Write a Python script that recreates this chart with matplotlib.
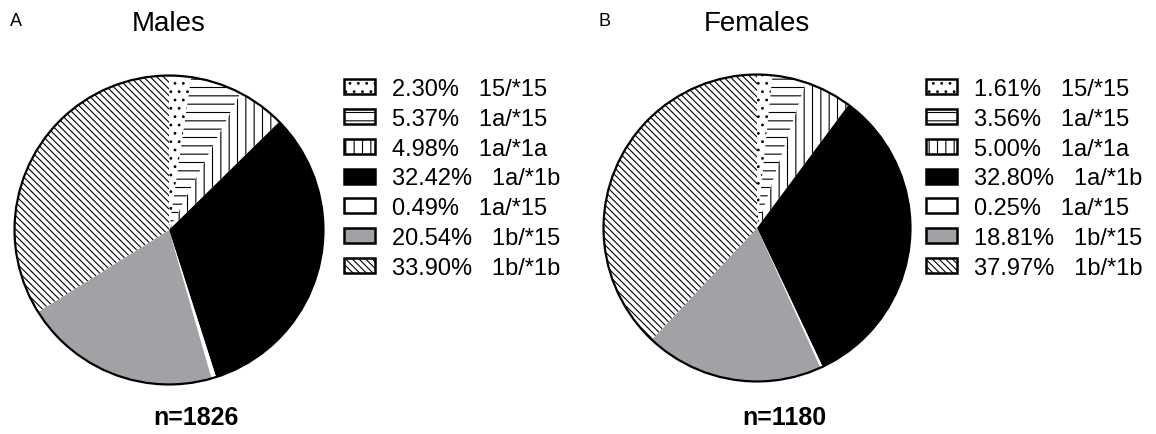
import numpy as np
import matplotlib.pyplot as plt
from matplotlib.patches import Patch, Circle

plt.rcParams['font.family'] = ['Liberation Sans', 'DejaVu Sans']
plt.rcParams['hatch.linewidth'] = 0.8

genotypes = ["15/*15", "1a/*15", "1a/*1a", "1a/*1b", "1a/*15", "1b/*15", "1b/*1b"]
males_pct = [2.30, 5.37, 4.98, 32.42, 0.49, 20.54, 33.90]
females_pct = [1.61, 3.56, 5.00, 32.80, 0.25, 18.81, 37.97]
males_n = 1826
females_n = 1180

# fill style for each genotype slice
face = ['white', 'white', 'white', 'black', 'white', '#a2a2a6', 'white']
hatches = ['..', '--', '||', None, None, None, '\\' * 5]

W, H = 1156, 435
fig = plt.figure(figsize=(W / 100, H / 100), dpi=100)


def px_axes(cx, cy, r):
    return fig.add_axes([(cx - r) / W, (H - cy - r) / H, 2 * r / W, 2 * r / H])


def draw_panel(cx, cy, r, pct, letter, title, n, letter_x, leg_x):
    ax = px_axes(cx, cy, r)
    wedges, _ = ax.pie(pct, startangle=90, counterclock=False,
                       colors=face, wedgeprops=dict(linewidth=0, edgecolor='black'))
    for w, h in zip(wedges, hatches):
        if h:
            w.set_hatch(h)
    ax.add_patch(Circle((0, 0), 1, fill=False, edgecolor='black', linewidth=1.6))
    ax.set_xlim(-1.01, 1.01)
    ax.set_ylim(-1.01, 1.01)
    ax.set_aspect('equal')
    ax.axis('off')

    fig.text(letter_x / W, 1 - 21 / H, letter, fontsize=13, ha='left', va='center')
    fig.text(cx / W, 1 - 24 / H, title, fontsize=20, ha='center', va='center')
    fig.text((cx + 27) / W, 1 - 418 / H, f"n={n}", fontsize=18, fontweight='bold',
             ha='center', va='center')

    handles = [Patch(facecolor=f, edgecolor='black', hatch=h, linewidth=1.8)
               for f, h in zip(face, hatches)]
    labels = [f"{p:.2f}%   {g}" for p, g in zip(pct, genotypes)]
    fig.legend(handles, labels, loc='upper left',
               bbox_to_anchor=(leg_x / W, 1 - 79 / H), frameon=False,
               fontsize=17, handlelength=1.3, handleheight=0.6,
               handletextpad=0.75, labelspacing=0.33, borderpad=0, borderaxespad=0)


draw_panel(169, 231, 156, males_pct, "A", "Males", males_n, 10, 344)
draw_panel(757, 229, 155, females_pct, "B", "Females", females_n, 598, 926)

fig.savefig("out.png", dpi=100)
